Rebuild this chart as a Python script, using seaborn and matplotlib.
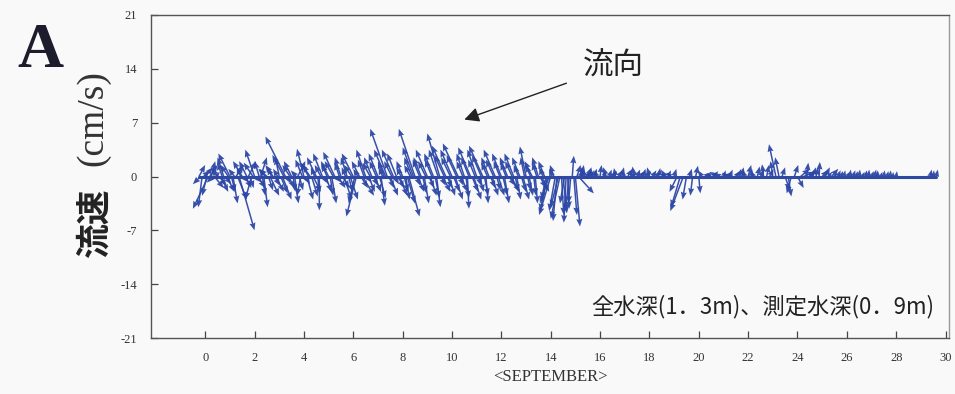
import numpy as np
import matplotlib
matplotlib.use("Agg")
import matplotlib.pyplot as plt
import seaborn as sns

# current vectors, 3-hourly, starting 31 Aug 18:00 (day -0.25)
t_start = -0.25
t_step = 0.125

# east (u) and north (v) components in cm/s, one row = one day (8 samples)
u = [
    0.8, -0.5, 1.0, -2.0, 0.5, 1.2, -0.8, 1.0,
    -0.8, 1.0, -1.5, 0.6, 1.0, 2.0, -1.2, 0.8,
    1.0, -0.8, -1.2, 1.0, 0.8, 0.5, -1.0, 1.2,
    -1.0, 1.0, -0.5, 1.2, -2.6, 0.8, -1.0, 0.5,
    1.0, -0.5, -0.9, 0.8, -1.0, 1.0, -1.2, 0.0,
    -1.2, 0.8, -1.0, 0.6, -1.5, 1.0, -0.8, 1.0,
    -0.8, 1.0, -1.5, -1.3, -1.0, 1.5, -1.2, 0.8,
    -1.0, 0.8, -1.2, 0.5, -0.8, -2.2, 1.0, -1.5,
    -1.2, 1.0, -0.8, 0.5, 1.4, -1.0, -2.1, 0.8,
    -1.0, 0.6, -1.5, 0.8, -1.2, 0.5, -1.6, 1.0,
    -1.8, 0.8, -1.5, 1.0, -2.0, 0.8, -1.0, 0.2,
    -1.6, 1.0, -1.2, 0.5, -1.8, 0.3, -1.0, 0.8,
    -1.5, 0.8, -1.2, 0.6, -1.0, 1.2, -1.2, 0.5,
    -1.0, 0.8, -0.8, 0.5, -1.0, 0.3, -0.8, 1.0,
    -0.8, -1.0, -1.5, -0.5, -0.5, -1.2, 0.5, -0.3,
    -0.5, 0.2, 0.6, 2.0, 0.3, -0.3, 0.5, 0.4,
    0.4, -0.3, 0.2, 0.5, -0.4, 0.3, 0.6, -0.2,
    0.5, 0.3, -0.4, 0.6, 0.8, -0.2, 0.4, 0.7,
    0.3, 0.6, -0.3, 0.5, 0.7, 0.2, 0.8, -0.5,
    0.4, -0.6, 0.3, -1.0, -1.2, -1.7, -0.5, 0.3,
    -0.3, 0.3, 0.2, -0.5, 0.6, 0.4, -0.6, 0.5,
    -1.0, -0.8, 0.3, -0.6, 0.4, -1.2, 0.5, 0.3,
    0.2, -0.3, 0.4, 0.1, -0.4, 0.3, 0.5, -0.2,
    0.3, 0.5, -0.3, -0.9, -0.5, 0.4, 0.6, 0.4,
    -0.6, 0.5, 0.8, 1.2, 1.5, 0.2, 0.6, 0.4,
    0.3, 0.1, 0.8, 0.6, 0.5, 0.9, 0.3, 0.4,
    0.3, 0.2, 0.4, 0.1, 0.3, 0.2, 0.1, 0.3,
    0.2, 0.1, 0.3, 0.2, 0.0, 0.2, 0.1, 0.2,
    0.1, 0.0, 0.1, 0.0, 0.0, 0.0, 0.0, 0.0,
    0.0, 0.0, 0.0, 0.0, 0.0, 0.2, 0.1, 0.2,
]
v = [
    1.5, -4.0, 1.2, -4.2, 2.0, -1.5, 1.0, -2.0,
    2.5, -2.0, 3.0, -3.5, 1.5, -7.0, 2.0, -1.5,
    2.0, -3.0, 3.5, -1.5, 2.5, -4.0, 1.0, -2.5,
    1.5, -2.0, 2.5, -3.0, 5.2, -1.5, 2.0, -3.5,
    2.0, -2.5, 3.6, -3.0, 1.5, -2.0, 2.5, -4.4,
    3.0, -2.0, 2.0, -3.5, 3.2, -1.5, 2.5, -3.0,
    2.5, -3.0, 3.0, -5.2, 2.0, -2.5, 3.5, -2.0,
    2.5, -2.0, 3.0, -3.8, 2.0, 6.2, -2.5, 3.5,
    3.0, -2.5, 2.0, -3.0, -5.2, 2.5, 6.2, -2.0,
    2.5, -3.5, 3.5, -2.5, 3.0, -4.0, 5.6, -2.0,
    4.0, -2.5, 3.5, -3.0, 4.3, -2.0, 3.0, -4.2,
    3.8, -3.0, 3.5, -2.0, 4.0, -3.5, 2.5, -2.5,
    3.5, -2.5, 3.0, -3.5, 2.5, -2.0, 3.0, -3.0,
    2.5, -3.0, 3.9, -2.5, 2.0, -3.5, 2.5, -2.0,
    2.0, -4.5, -5.0, 1.5, -5.8, -5.5, -4.8, -6.0,
    -4.5, 2.7, -6.5, -2.2, 1.5, 1.0, 1.2, 0.8,
    1.0, 0.8, 1.5, 0.6, 1.2, 0.9, 0.7, 1.1,
    0.8, 1.2, 0.6, 1.0, 0.5, 1.3, 0.9, 0.7,
    1.0, 0.7, 1.2, 0.8, 0.6, 1.1, 0.4, 0.9,
    0.8, 0.5, 1.0, -2.0, -4.0, -4.5, -3.0, 1.0,
    -2.5, 1.4, -2.2, 0.8, 0.5, 0.6, 0.4, 0.7,
    0.6, 0.4, 0.8, 0.5, 0.9, 0.3, 0.7, 1.0,
    1.2, 0.8, 1.5, 1.0, 0.6, 1.3, 0.9, 1.6,
    1.5, 1.0, 2.0, 4.2, 2.5, 1.2, -1.8, -2.6,
    -2.2, 1.5, -1.5, 1.0, 0.6, 1.8, 0.8, 1.2,
    1.2, 1.9, 0.8, 1.2, 0.6, 1.0, 0.5, 0.8,
    0.7, 0.8, 0.6, 0.9, 0.8, 0.7, 0.9, 0.6,
    0.8, 0.9, 0.7, 0.9, 0.8, 0.6, 0.8, 0.7,
    0.8, 0.6, 0.7, 0.0, 0.0, 0.0, 0.0, 0.0,
    0.0, 0.0, 0.0, 0.0, 0.0, 0.9, 0.8, 0.9,
]

# in-between samples (+1.5 h) for the dense first half of the month
u_mid = [
    -1.0, 0.8, -0.6, 1.0, -0.8, 0.5, 1.0, -0.6,
    0.8, -1.0, 0.5, -0.8, 1.2, -0.5, 0.7, -1.0,
    0.5, -1.2, 0.8, -0.6, 0.4, -0.9, 0.6, -0.5,
    0.7, -0.6, 0.9, -1.5, 0.5, -1.0, 0.3, -0.7,
    0.5, -0.9, 0.6, -1.0, 0.8, -0.5, 0.2, -0.8,
    0.6, -0.7, 0.4, -1.1, 0.7, -0.6, 0.9, -0.5,
    0.5, -1.0, -0.8, -0.6, 0.9, -0.8, 0.6, -1.0,
    0.6, -0.9, 0.8, -0.5, -1.5, 0.7, -1.0, 0.5,
    0.8, -0.6, 0.5, 1.0, -0.8, -1.4, 0.5, -0.9,
    0.5, -1.0, 0.7, -0.9, 0.6, -1.2, 0.6, -1.3,
    0.6, -1.2, 0.8, -1.3, 0.5, -0.8, 0.4, -1.0,
    0.8, -0.9, 0.4, -1.2, 0.5, -0.8, 0.6, -1.0,
    0.5, -0.8, 0.6, -0.7, 0.8, -0.9, 0.4, -0.6,
    0.6, -0.5, 0.4, -0.7, 0.3, -0.6, 0.8, -0.5,
    -0.6, -1.2, -0.4, -0.8, -1.0, 0.3, -0.6, 0.2,
    -0.3, 0.4, 0.5, 0.3, -0.2, 0.4, 0.3, -0.3,
]
v_mid = [
    -1.0, 0.8, -2.5, 1.5, -0.8, 0.6, -1.2, 1.8,
    -1.0, 1.5, -2.0, 1.0, -3.0, 1.2, -0.8, 2.0,
    -1.5, 1.8, -0.8, 2.0, -2.5, 1.0, -1.8, 1.2,
    -1.2, 1.0, -2.2, 2.8, -0.9, 1.5, -2.0, 0.8,
    -1.8, 2.2, -1.0, 1.8, -2.6, 1.2, -2.2, 1.5,
    -1.0, 1.6, -2.5, 2.0, -0.8, 1.8, -1.5, 1.2,
    -2.0, 1.5, -3.5, 1.0, -1.5, 2.2, -0.8, 1.8,
    -1.2, 2.0, -2.8, 1.2, 3.5, -1.5, 2.0, -1.0,
    -1.5, 1.2, -2.0, -3.5, 1.5, 3.8, -1.2, 2.2,
    -2.2, 2.0, -1.5, 2.2, -2.8, 3.5, -1.2, 2.8,
    -1.5, 2.5, -2.0, 2.8, -1.2, 2.0, -2.8, 2.5,
    -2.0, 2.2, -1.2, 2.8, -2.5, 1.8, -1.5, 2.2,
    -1.8, 2.0, -2.5, 1.8, -1.2, 2.0, -2.0, 1.5,
    -2.0, 2.5, -1.8, 1.5, -2.5, 1.8, -1.5, 1.2,
    -3.0, -3.5, 1.0, -4.5, -4.0, -5.0, -3.5, -4.2,
    -3.5, -5.0, 1.5, 0.8, 1.2, 0.6, 1.0, 0.9,
]

x_ticks = list(range(0, 31, 2))
y_ticks = [-21, -14, -7, 0, 7, 14, 21]

sns.set_style("ticks")
plt.rcParams['font.family'] = ['Noto Sans CJK JP', 'DejaVu Sans']
plt.rcParams['axes.unicode_minus'] = False

u_all = np.concatenate([u, u_mid])
v_all = np.concatenate([v, v_mid])
t_main = t_start + t_step * np.arange(len(u))
t_all = np.concatenate([t_main, t_main[:len(u_mid)] + t_step / 2])

bg = '#f9f9f9'
fig = plt.figure(figsize=(9.55, 3.94), dpi=100, facecolor=bg)
pos = [0.158, 0.142, 0.836, 0.820]
ax = fig.add_axes(pos, facecolor=bg)

xmin, xmax = -2.2, 30.15
ymin, ymax = -21, 21
ax.set_xlim(xmin, xmax)
ax.set_ylim(ymin, ymax)

# same px scale for u (along x) and v (along y)
w_px = pos[2] * 955
h_px = pos[3] * 394
k = (h_px / (ymax - ymin)) / (w_px / (xmax - xmin))

# baseline
sns.lineplot(x=t_main, y=np.zeros_like(t_main), ax=ax, color='#2f49a3', lw=2.2)

m = (u_all != 0) | (v_all != 0)
ax.quiver(t_all[m], np.zeros(m.sum()), u_all[m] * k, v_all[m],
          angles='xy', scale_units='xy', scale=1,
          color='#2c47a6', width=0.0019, headwidth=4, headlength=5,
          headaxislength=4.5, alpha=0.95)

ax.set_xticks(x_ticks)
ax.set_yticks(y_ticks)
ax.tick_params(direction='in', length=5, width=0.9, color='#444',
               labelsize=9, labelcolor='#333', pad=10)
for lab in ax.get_xticklabels() + ax.get_yticklabels():
    lab.set_family('Liberation Serif')
for s in ax.spines.values():
    s.set_color('#555')
    s.set_linewidth(1.0)
ax.spines['right'].set_color('#999')

ax.set_xlabel('<SEPTEMBER>', family='Liberation Serif', fontsize=12,
              color='#333', labelpad=4)

# y label in two parts: bold kanji, plain serif unit
fig.text(0.099, 1 - 223 / 394, '流速', rotation=90, fontsize=25,
         fontweight='bold', color='#222', ha='center', va='center')
fig.text(0.097, 1 - 118 / 394, '(cm/s)', rotation=90, fontsize=27,
         family='Liberation Serif', color='#333', ha='center', va='center')

ax.text(29.55, -16.9, '全水深(1．3m)、測定水深(0．9m)', ha='right',
        va='center', fontsize=16, color='#222')

ax.annotate('流向', xy=(10.5, 7.4), xytext=(15.3, 14.3),
            ha='left', va='center', fontsize=22, color='#222',
            arrowprops=dict(arrowstyle='-|>', color='#222', lw=1.0,
                            mutation_scale=22, shrinkA=10, shrinkB=0))

fig.text(0.042, 0.868, 'A', family='Liberation Serif', fontweight='bold',
         fontsize=46, color='#1c1c2c', ha='center', va='center')

fig.savefig('out.png', dpi=100, facecolor=bg)
